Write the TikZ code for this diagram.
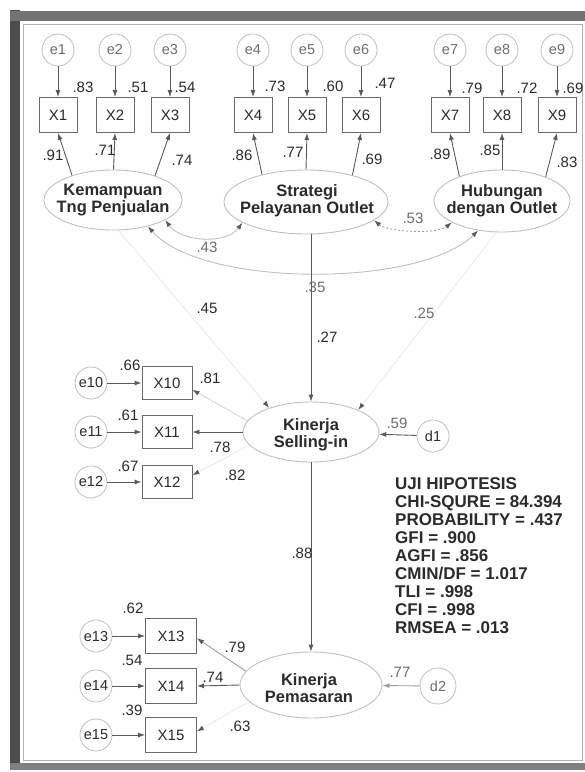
\documentclass[tikz,border=0pt]{standalone}
\usepackage{fontspec}
\setmainfont{Liberation Sans}
\usetikzlibrary{arrows.meta,shapes.geometric}
\definecolor{ink}{HTML}{2B2B2B}
\definecolor{lineC}{HTML}{5A5A5A}
\definecolor{boxC}{HTML}{6A6A6A}
\definecolor{fadeC}{HTML}{C0C0C0}
\definecolor{midC}{HTML}{A0A0A0}
\definecolor{ghostC}{HTML}{EBEBEB}
\definecolor{softtext}{HTML}{6E6E6E}
\tikzset{
 obs/.style={draw=boxC, line width=0.9pt, minimum width=38pt, minimum height=35pt, inner sep=0pt, font=\fontsize{15}{17}\selectfont, text=ink},
 obsw/.style={obs, minimum width=50pt, minimum height=33pt},
 err/.style={circle, draw=fadeC, line width=0.8pt, minimum size=32pt, inner sep=0pt, font=\fontsize{14.5}{16}\selectfont, text=softtext},
 errd/.style={err, text=ink},
 lat/.style={ellipse, draw=fadeC, line width=0.9pt, inner sep=0pt},
 lattext/.style={font=\bfseries\fontsize{16.5}{17}\selectfont, align=center, text=ink, inner sep=0pt},
 arr/.style={draw=lineC, line width=0.9pt, -{Latex[length=7pt,width=5pt]}},
 farr/.style={draw=ghostC, line width=0.9pt, -{Latex[length=7pt,width=5pt,color=lineC]}},
 sarr/.style={draw=midC, line width=0.9pt, -{Latex[length=7pt,width=5pt,color=lineC]}},
 cov/.style={draw=fadeC, line width=0.9pt, {Latex[length=7pt,width=5pt,color=lineC]}-{Latex[length=7pt,width=5pt,color=lineC]}},
 lab/.style={font=\fontsize{15}{17}\selectfont, text=ink, inner sep=0pt},
 glab/.style={lab, text=softtext},
 uji/.style={font=\bfseries\fontsize{17}{18.1}\selectfont, text=ink, align=left, inner sep=0pt},
}
\begin{document}
\begin{tikzpicture}[x=1pt,y=-1pt]
\fill[white] (0,0) rectangle (585,772);
\useasboundingbox (0,0) rectangle (585,772);
% frame
\fill[black!70] (10,10) rectangle (20,770);
\fill[black!55] (10,11) rectangle (585,21);
\fill[black!50] (10,763) rectangle (585,770);
\draw[black!30, line width=0.8pt] (23,24) -- (23,760) -- (582,760) -- (582,24) -- cycle;

% top indicators
\foreach \n/\x in {1/58,2/115,3/170,4/253,5/307,6/361,7/450,8/502,9/557}{
  \node[err] (e\n) at (\x,50) {e\n};
  \node[obs] (X\n) at (\x,115) {X\n};
  \draw[arr] (e\n) -- (X\n);
}

% latent exogenous
\node[lat, minimum width=138pt, minimum height=60pt] (K1) at (113,200) {};
\node[lattext] (K1t) at (113,200) {Kemampuan\\Tng Penjualan};
\node[lat, minimum width=164pt, minimum height=64pt] (S) at (306,202) {};
\node[lattext] (St) at (307,201) {Strategi\\Pelayanan Outlet};
\node[lat, minimum width=136pt, minimum height=62pt] (H) at (502,201) {};
\node[lattext] (Ht) at (502,201) {Hubungan\\dengan Outlet};

% loadings
\draw[arr] (K1.149) -- (X1.south);
\draw[arr] (K1.89) -- (X2.south);
\draw[arr] (K1.30) -- (X3.south);
\draw[arr] (S.148) -- (X4.south);
\draw[arr] (S.90) -- (X5.south);
\draw[arr] (S.30) -- (X6.south);
\draw[arr] (H.150) -- (X7.south);
\draw[arr] (H.90) -- (X8.south);
\draw[arr] (H.29) -- (X9.south);

% covariances
\draw[cov] (K1.-21) .. controls +(16,22) and +(-16,22) .. (S.198);
\draw[cov, draw=midC, dash pattern=on 2pt off 2pt] (S.-15) .. controls +(14,12) and +(-14,12) .. (H.203);
\draw[cov] (K1.-37) .. controls +(53,61) and +(-59,58) .. (H.-129);

% endogenous
\node[lat, minimum width=136pt, minimum height=60pt] (KS) at (311,432) {};
\node[lattext] (KSt) at (311,435) {Kinerja\\Selling-in};
\node[lat, minimum width=142pt, minimum height=66pt] (KP) at (311,685) {};
\node[lattext] (KPt) at (309,688) {Kinerja\\Pemasaran};

\draw[arr] (KS.north |- S.south) -- (KS.north);
\draw[farr] (K1.-80) -- (KS.150);
\draw[farr] (H.-100) -- (KS.25);
\draw[arr] (KS.south) -- (KP.north);

% Selling-in indicators
\foreach \n/\y in {10/383,11/432,12/482}{
  \node[obsw] (X\n) at (167,\y) {X\n};
  \node[errd] (e\n) at (91,\y) {e\n};
  \draw[arr] (e\n) -- (X\n);
}
\draw[sarr, draw=ghostC!70!midC] (KS.170) -- (X10.-15);
\draw[arr] (KS.west) -- (X11.east);
\draw[farr] (KS.192) -- (X12.15);

% Pemasaran indicators
\foreach \n/\y in {13/636,14/686,15/735}{
  \node[obs, minimum width=51pt] (X\n) at (171,\y) {X\n};
  \node[errd] (e\n) at (96,\y) {e\n};
  \draw[arr] (e\n) -- (X\n);
}
\draw[sarr] (KP.168) -- (X13.-5);
\draw[arr] (KP.west) -- (X14.east);
\draw[farr] (KP.195) -- (X15.8);

% disturbances
\node[errd] (d1) at (433,436) {d1};
\draw[arr] (d1) -- (KS);
\node[err, minimum size=36pt] (d2) at (438,686) {d2};
\draw[arr, draw=midC] (d2) -- (KP);

% top labels
\node[lab] (r1) at (83,87) {.83};
\node[lab] (r2) at (138,87) {.51};
\node[lab] (r3) at (185,87) {.54};
\node[lab] (r4) at (275,86) {.73};
\node[lab] (r5) at (333,86) {.60};
\node[lab] (r6) at (385,83) {.47};
\node[lab] (r7) at (472,88) {.79};
\node[lab] (r8) at (527,88) {.72};
\node[lab] (r9) at (573,88) {.69};
\node[lab] (l1) at (53,155) {.91};
\node[lab] (l2) at (105,150) {.71};
\node[lab] (l3) at (182,160) {.74};
\node[lab] (l4) at (242,155) {.86};
\node[lab] (l5) at (293,152) {.77};
\node[lab] (l6) at (372,159) {.69};
\node[lab] (l7) at (440,154) {.89};
\node[lab] (l8) at (490,150) {.85};
\node[lab] (l9) at (567,162) {.83};

% structural labels
\node[glab] (c43) at (207,247) {.43};
\node[glab] (c53) at (413,218) {.53};
\node[glab] (p35) at (315,287) {.35};
\node[lab] (p45) at (207,308) {.45};
\node[glab] (p25) at (424,313) {.25};
\node[lab] (p27) at (327,337) {.27};
\node[lab] (p88) at (302,553) {.88};
\node[glab] (p59) at (397,423) {.59};
\node[glab] (p77) at (400,672) {.77};

% lower labels
\node[lab] (r10) at (130,365) {.66};
\node[lab] (l10) at (210,378) {.81};
\node[lab] (r11) at (128,415) {.61};
\node[lab] (l11) at (220,447) {.78};
\node[lab] (r12) at (128,466) {.67};
\node[lab] (l12) at (235,475) {.82};
\node[lab] (r13) at (133,608) {.62};
\node[lab] (l13) at (235,647) {.79};
\node[lab] (r14) at (132,660) {.54};
\node[lab] (l14) at (213,677) {.74};
\node[lab] (r15) at (132,710) {.39};
\node[lab] (l15) at (240,726) {.63};

% fit statistics
\node[uji, anchor=north west] (uji) at (395,477) {UJI HIPOTESIS\\CHI-SQURE = 84.394\\PROBABILITY = .437\\GFI = .900\\AGFI = .856\\CMIN/DF = 1.017\\TLI = .998\\CFI = .998\\RMSEA = .013};
\end{tikzpicture}
\end{document}
